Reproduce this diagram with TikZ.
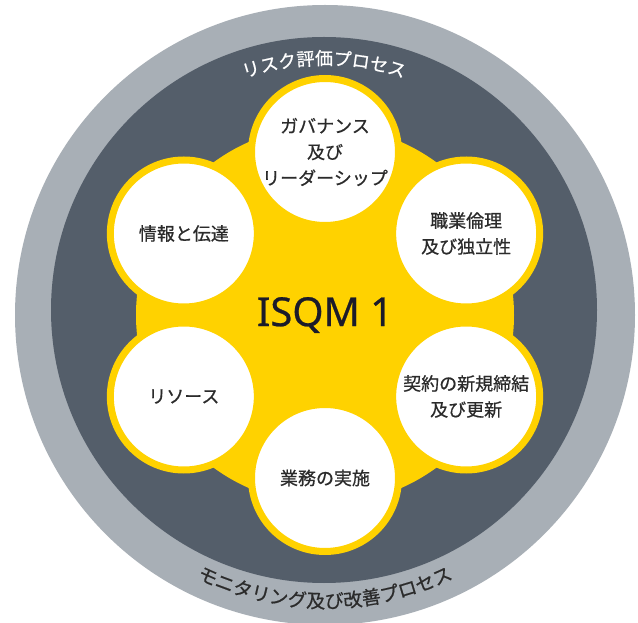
\documentclass[tikz,border=0pt]{standalone}
\usepackage{fontspec}
\setmainfont{Noto Sans CJK JP}
\newfontfamily\medcjk{Noto Sans CJK JP}[FakeBold=0.7]
\newfontfamily\latinfont{Noto Sans}[FakeBold=0.6]
\usetikzlibrary{decorations.text}
\definecolor{ringgrey}{HTML}{A8AFB6}
\definecolor{ringdark}{HTML}{545E6A}
\definecolor{eyyellow}{HTML}{FFD200}
\definecolor{txtdark}{HTML}{2B2B2B}
\definecolor{isqmcol}{HTML}{1B1B2A}
\begin{document}
\begin{tikzpicture}[x=1pt,y=1pt,
  bubble/.style={circle, fill=white, draw=eyyellow, line width=7pt,
    minimum size=147pt, inner sep=0pt, align=center, text=txtdark,
    font=\medcjk\fontsize{18}{26}\selectfont}]
\useasboundingbox (0,0) rectangle (638,622);
\clip (0,0) rectangle (638,622);
\fill[white] (0,0) rectangle (638,622);
% rings
\fill[ringgrey] (325,307) circle[radius=310];
\fill[ringdark] (324,312) circle[radius=273];
\fill[eyyellow] (325,307) circle[radius=189];
% ring labels
\path[decorate, decoration={text along path, text align=center,
  text={|\medcjk\fontsize{18}{18}\selectfont\color{white}|リスク評価プロセス}}]
  ([shift={(135:245)}]324,312) arc[start angle=135, end angle=45, radius=245];
\path[decorate, decoration={text along path, text align=center,
  text={|\medcjk\fontsize{19}{19}\selectfont\color{txtdark}|モニタリング及び改善プロセス}}]
  ([shift={(220:293)}]325,307) arc[start angle=220, end angle=320, radius=293];
% bubbles
\node[bubble] (gov) at ([shift={(90:163)}]325,307) {ガバナンス\\及び\\リーダーシップ};
\node[bubble] (eth) at ([shift={(30:163)}]325,307) {職業倫理\\及び独立性};
\node[bubble] (acc) at ([shift={(-30:163)}]325,307) {契約の新規締結\\及び更新};
\node[bubble] (eng) at ([shift={(-90:163)}]325,307) {業務の実施};
\node[bubble] (res) at ([shift={(-150:163)}]325,307) {リソース};
\node[bubble] (inf) at ([shift={(150:163)}]325,307) {情報と伝達};
% centre
\node[text=isqmcol, font=\latinfont\fontsize{40}{40}\selectfont, inner sep=0pt] (isqm) at (325,307) {ISQM 1};
\end{tikzpicture}
\end{document}
